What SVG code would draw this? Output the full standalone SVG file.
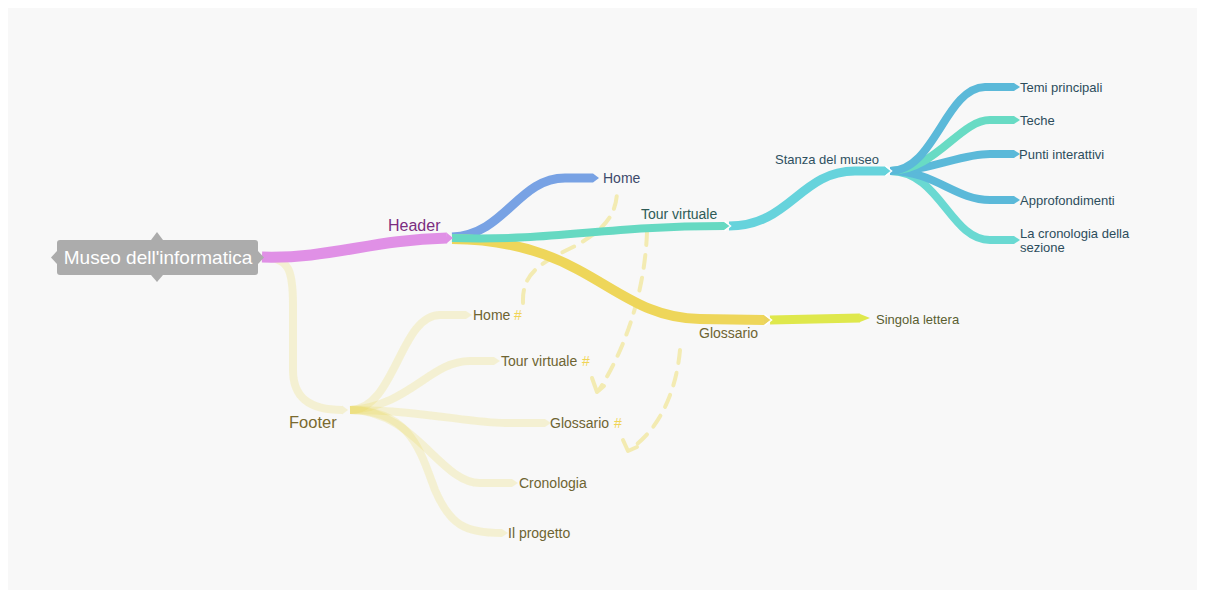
<svg xmlns="http://www.w3.org/2000/svg" width="1205" height="596" viewBox="0 0 1205 596">
<style>
.br{fill:none;stroke-linecap:butt;stroke-linejoin:round}
.lbl{font-family:"Liberation Sans",Arial,sans-serif;font-size:13px}
.lbl14{font-family:"Liberation Sans",Arial,sans-serif;font-size:14px}
.ft{fill:none;stroke:#ecd95a;stroke-opacity:0.24;stroke-width:8}
.fttip{fill:#ecd95a;fill-opacity:0.24}
.dash{fill:none;stroke:#f3ebb2;stroke-width:4;stroke-dasharray:13 10;stroke-linecap:round}
.hook{fill:none;stroke:#f3ebb2;stroke-width:4;stroke-linecap:round;stroke-linejoin:round}
.sep{fill:none;stroke:#ffffff;stroke-width:1.5}
.hash{fill:#f0d455}
.olive{fill:#6e6432}
</style>
<rect x="0" y="0" width="1205" height="596" fill="#ffffff"/>
<rect x="8" y="8" width="1189" height="582" fill="#f8f8f8"/>

<g id="connectors">
  <!-- footer -->
  <path class="ft" stroke-width="9" d="M262,257 C290,257 293,272 293,305 L293,370 C293,398 310,410 342,410"/>
  <polygon class="fttip" points="342,405.5 348,410 342,414.5"/>
  <path class="ft" d="M350,410 C395,410 400,315 440,315 L466,315"/>
  <polygon class="fttip" points="466,311 472,315 466,319"/>
  <path class="ft" d="M350,410 C410,406 430,361 470,361 L494,361"/>
  <polygon class="fttip" points="494,357 500,361 494,365"/>
  <path class="ft" d="M350,410 C420,410 470,423 505,423 L545,423"/>
  <polygon class="fttip" points="545,419 551,423 545,427"/>
  <path class="ft" d="M350,410 C415,410 440,483 480,483 L512,483"/>
  <polygon class="fttip" points="512,479 518,483 512,487"/>
  <path class="ft" d="M350,410 C410,410 420,450 435,490 C450,525 465,533 502,533"/>
  <polygon class="fttip" points="502,529 508,533 502,537"/>

  <!-- dashed cross links -->
  <path class="dash" d="M523,303 C522,274 538,264 575,246 C604,230 617,215 617,190"/>
  <path class="dash" d="M647,232 C645,290 626,348 599,390"/>
  <polyline class="hook" points="592,378 597,392 604,386"/>
  <path class="dash" d="M680,350 C676,395 657,430 633,447"/>
  <polyline class="hook" points="623,440 628,451 637,447"/>

  <!-- header children -->
  <path class="br" stroke="#78a2e4" stroke-width="9" d="M452,237 C505,235 518,178 565,178 L593,178"/>
  <polygon fill="#78a2e4" points="593,173.5 599,178 593,182.5"/>
  <path class="br" stroke="#eed65a" stroke-width="10" d="M452,239 C590,240 612,318 700,319 L764,320"/>
  <polygon fill="#ead35e" points="764,315 771,320 764,325"/>
  <path class="br" stroke="#66d9c2" stroke-width="8" d="M452,238 C560,241 600,226 724,226"/>
  <polygon fill="#66d9c2" points="724,222 730,226 724,230"/>
  <path class="br" stroke="#dfe84c" stroke-width="9" d="M770,320 L860,318"/>
  <polygon fill="#dfe84c" points="860,314 870,318 860,322"/>
  <path class="br" stroke="#66d3dc" stroke-width="9" d="M729,226 C790,226 800,171 855,171 L885,171"/>
  <polygon fill="#66d3dc" points="885,166.5 891,171 885,175.5"/>

  <!-- stanza children -->
  <path class="br" stroke="#6ad9d2" stroke-width="8" d="M890,171 C940,171 950,240 990,240 L1014,240"/>
  <polygon fill="#6ad9d2" points="1014,236 1020,240 1014,244"/>
  <path class="br" stroke="#5bb9d9" stroke-width="8" d="M890,171 C935,171 955,200 990,200 L1014,200"/>
  <polygon fill="#5bb9d9" points="1014,196 1020,200 1014,204"/>
  <path class="br" stroke="#5bb9d9" stroke-width="8" d="M890,171 C930,171 960,154 990,154 L1014,154"/>
  <polygon fill="#5bb9d9" points="1014,150 1020,154 1014,158"/>
  <path class="br" stroke="#68dbc4" stroke-width="8" d="M890,171 C935,171 960,120 990,120 L1014,120"/>
  <polygon fill="#68dbc4" points="1014,116 1020,120 1014,124"/>
  <path class="br" stroke="#5bb9d9" stroke-width="8" d="M890,171 C935,171 945,88 985,87 L1014,87"/>
  <polygon fill="#5bb9d9" points="1014,83 1020,87 1014,91"/>

  <!-- root to header -->
  <path class="br" stroke="#e090e6" stroke-width="11" d="M262,257 C330,259 370,240 447,238"/>
  <polygon fill="#e090e6" points="447,233 453,238 447,243"/>

  <!-- separators -->
  <polyline class="sep" points="724.5,221 730.5,226 724.5,231"/>
  <polyline class="sep" points="885.5,166 891.5,171 885.5,176"/>
  <polyline class="sep" points="764.5,314.5 771.5,320 764.5,325.5"/>
</g>

<g id="root">
  <rect x="57" y="240" width="201" height="35" rx="3" fill="#acacac"/>
  <polygon fill="#acacac" points="151,240 157,232 163,240"/>
  <polygon fill="#acacac" points="151,275 157,282 163,275"/>
  <polygon fill="#acacac" points="57,251 51,257.5 57,264"/>
  <polygon fill="#acacac" points="258,251 264,257.5 258,264"/>
  <text x="158" y="264" text-anchor="middle" fill="#ffffff" style="font-family:'Liberation Sans',Arial,sans-serif;font-size:19px">Museo dell'informatica</text>
</g>

<g id="header"><text x="388" y="231" fill="#7c2d80" style="font-family:'Liberation Sans',Arial,sans-serif;font-size:16px">Header</text></g>
<g id="footer"><text x="289" y="428" fill="#7a6a30" style="font-family:'Liberation Sans',Arial,sans-serif;font-size:16.5px">Footer</text></g>

<g id="h-home"><text class="lbl14" x="603" y="183" fill="#3d4a6b">Home</text></g>
<g id="h-tour"><text class="lbl14" x="641" y="219" fill="#2e5b56">Tour virtuale</text></g>
<g id="h-glossario"><text class="lbl14 olive" x="699" y="338">Glossario</text></g>
<g id="singola"><text class="lbl" x="876" y="324" fill="#5a5e30">Singola lettera</text></g>
<g id="stanza"><text class="lbl" x="775" y="164" fill="#2e5060">Stanza del museo</text></g>

<g id="temi"><text class="lbl" x="1020" y="92" fill="#2d4d5c">Temi principali</text></g>
<g id="teche"><text class="lbl" x="1020" y="125" fill="#2d4d5c">Teche</text></g>
<g id="punti"><text class="lbl" x="1019" y="159" fill="#2d4d5c">Punti interattivi</text></g>
<g id="approf"><text class="lbl" x="1020" y="205" fill="#2d4d5c">Approfondimenti</text></g>
<g id="cronosez"><text class="lbl" x="1020" y="238" fill="#2d4d5c">La cronologia della</text><text class="lbl" x="1020" y="252" fill="#2d4d5c">sezione</text></g>

<g id="f-home"><text class="lbl14 olive" x="473" y="320">Home</text><text class="lbl14 hash" x="514" y="320">#</text></g>
<g id="f-tour"><text class="lbl14 olive" x="501" y="366">Tour virtuale</text><text class="lbl14 hash" x="582" y="366">#</text></g>
<g id="f-glossario"><text class="lbl14 olive" x="550" y="428">Glossario</text><text class="lbl14 hash" x="614" y="428">#</text></g>
<g id="f-crono"><text class="lbl14 olive" x="519" y="488">Cronologia</text></g>
<g id="f-progetto"><text class="lbl14 olive" x="508" y="538">Il progetto</text></g>
</svg>
